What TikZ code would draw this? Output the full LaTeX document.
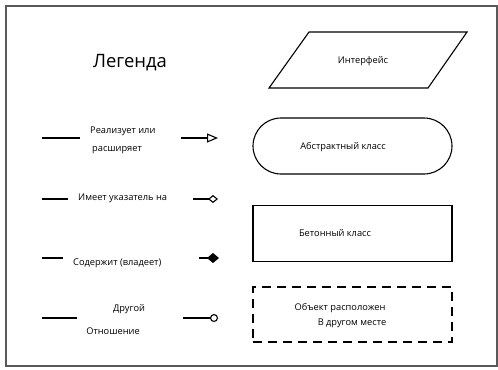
\documentclass[tikz,border=0pt]{standalone}
\usepackage{fontspec}
\setmainfont{Open Sans}
\usetikzlibrary{arrows.meta}

\begin{document}
\begin{tikzpicture}[x=10bp,y=10bp]
		\tikzstyle{every node}+=[inner sep=0pt]
		\tikzstyle{lbl}=[font=\fontsize{9.3}{18}\selectfont]
		\tikzstyle{edge}=[black, line width=1.1bp]
		\tikzstyle{classbox}=[draw=black, line width=1.1bp, minimum width=199bp, minimum height=56bp]
		\useasboundingbox (0,0) rectangle (49.8,-37);
		\draw [black!65, line width=1.6bp] (0.6,-0.6) rectangle (49.7,-36.6);
		% shapes on the right
		\draw [black, line width=1.1bp] (30.9,-3.2) -- (46.7,-3.2) -- (42.8,-8.8) -- (26.9,-8.8) -- cycle;
		\node (iface) at (36.3,-6.1) [lbl] {Интерфейс};
		\node (abstract) at (35.25,-14.6) [classbox, rounded corners=28bp] {};
		\node at (34.3,-14.7) [lbl] {Абстрактный класс};
		\node (concrete) at (35.25,-23.35) [classbox] {};
		\node at (33.5,-23.3) [lbl] {Бетонный класс};
		\node (remote) at (35.25,-31.45) [classbox, minimum height=55bp, dash pattern=on 9bp off 6bp] {};
		\node (remote1) at (34.0,-30.8) [lbl] {Объект расположен};
		\node (remote2) at (35.2,-32.3) [lbl] {В другом месте};
		% legend
		\node (title) at (13.0,-6.3) [font=\fontsize{18.5}{22}\selectfont] {Легенда};
		\coordinate (r1a) at (4.2,-13.8);
		\coordinate (r1b) at (8.0,-13.8);
		\coordinate (r1c) at (18.1,-13.8);
		\coordinate (r1d) at (21.8,-13.8);
		\draw [edge] (r1a) -- (r1b);
		\draw [edge, -{Triangle[open, length=11bp, width=9bp]}] (r1c) -- (r1d);
		\node (real) at (9.0,-14.0) [lbl, anchor=west, align=left] {Реализует или\\\hspace{2bp}расширяет};
		\coordinate (r2a) at (4.2,-19.9);
		\coordinate (r2b) at (6.8,-19.9);
		\coordinate (r2c) at (19.3,-19.9);
		\coordinate (r2d) at (21.8,-19.9);
		\draw [edge] (r2a) -- (r2b);
		\draw [edge, -{Diamond[open, length=10bp, width=8bp]}] (r2c) -- (r2d);
		\node (pointer) at (7.8,-19.8) [lbl, anchor=west] {Имеет указатель на};
		\coordinate (r3a) at (4.2,-25.8);
		\coordinate (r3b) at (6.3,-25.8);
		\coordinate (r3c) at (19.9,-25.8);
		\coordinate (r3d) at (21.9,-25.8);
		\draw [edge] (r3a) -- (r3b);
		\draw [edge, -{Diamond[length=12bp, width=10bp]}] (r3c) -- (r3d);
		\node (owns) at (7.3,-26.3) [lbl, anchor=west] {Содержит (владеет)};
		\coordinate (r4a) at (4.2,-31.8);
		\coordinate (r4b) at (7.7,-31.8);
		\coordinate (r4c) at (18.3,-31.8);
		\coordinate (r4d) at (21.8,-31.8);
		\draw [edge] (r4a) -- (r4b);
		\draw [edge, -{Circle[open, length=8bp]}] (r4c) -- (r4d);
		\node (other1) at (12.9,-30.9) [lbl] {Другой};
		\node (other2) at (11.3,-33.1) [lbl] {Отношение};
\end{tikzpicture}
\end{document}
